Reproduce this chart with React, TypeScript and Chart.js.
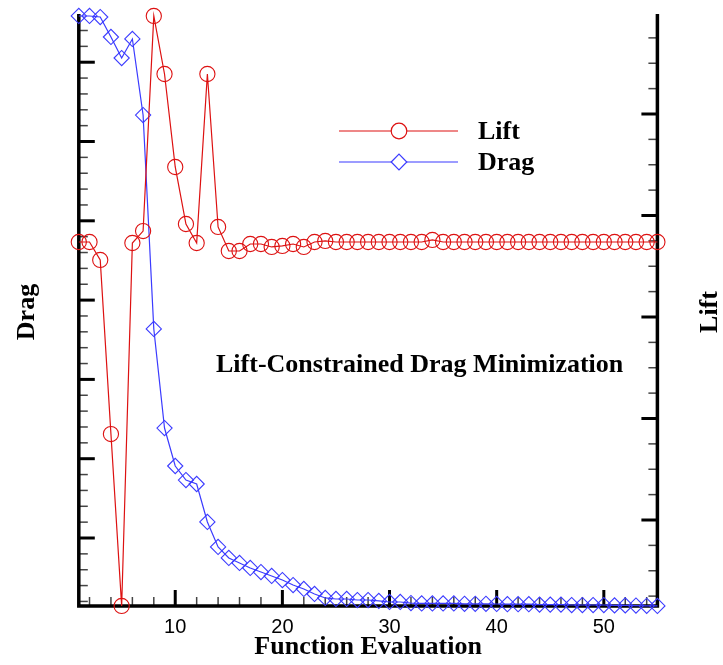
import React, { useEffect, useRef } from 'react';
import { Chart, registerables } from 'chart.js';

Chart.register(...registerables);

// ---- data ----
const evaluations: number[] = Array.from({ length: 55 }, (_, i) => i + 1);

const liftValues: number[] = [
  0.4739, 0.4739, 0.4562, 0.2847, 0.1153, 0.4729, 0.4847, 0.6966, 0.6394, 0.5478,
  0.4916, 0.4729, 0.6394, 0.4887, 0.4650, 0.4650, 0.4719, 0.4719, 0.4690, 0.4700,
  0.4719, 0.4690, 0.4739, 0.4749, 0.4739, 0.4739, 0.4739, 0.4739, 0.4739, 0.4739,
  0.4739, 0.4739, 0.4739, 0.4759, 0.4739, 0.4739, 0.4739, 0.4739, 0.4739, 0.4739,
  0.4739, 0.4739, 0.4739, 0.4739, 0.4739, 0.4739, 0.4739, 0.4739, 0.4739, 0.4739,
  0.4739, 0.4739, 0.4739, 0.4739, 0.4739,
];

const dragValues: number[] = [
  7.583, 7.583, 7.570, 7.318, 7.053, 7.293, 6.334, 3.636, 2.387, 1.908,
  1.731, 1.681, 1.202, 0.887, 0.748, 0.685, 0.622, 0.571, 0.521, 0.470,
  0.407, 0.357, 0.294, 0.244, 0.231, 0.231, 0.218, 0.218, 0.206, 0.193,
  0.193, 0.180, 0.175, 0.175, 0.175, 0.175, 0.170, 0.170, 0.170, 0.168,
  0.165, 0.165, 0.165, 0.160, 0.160, 0.160, 0.155, 0.155, 0.155, 0.155,
  0.150, 0.150, 0.148, 0.145, 0.143,
];

const xMajorTicks: number[] = [10, 20, 30, 40, 50];
const xTickLabels: string[] = ['10', '20', '30', '40', '50'];
const legendLabels: string[] = ['Lift', 'Drag'];
const chartTitle = 'Lift-Constrained Drag Minimization';
const xAxisTitle = 'Function Evaluation';
const leftAxisTitle = 'Drag';
const rightAxisTitle = 'Lift';

const X_MIN = 1;
const X_MAX = 55;
const DRAG_MIN = 0.1425;
const DRAG_MAX = 7.608;
const LIFT_MIN = 0.11527;
const LIFT_MAX = 0.69852;

const RED = '#dd1111';
const BLUE = '#3b3bff';
const BOLD_SERIF = "bold 26px 'Liberation Serif', 'DejaVu Serif', serif";

function range(start: number, end: number, step: number): number[] {
  const out: number[] = [];
  const n = Math.round((end - start) / step);
  for (let i = 0; i <= n; i++) out.push(+(start + i * step).toFixed(6));
  return out;
}

const axesPlugin = {
  id: 'customAxes',
  beforeDatasetsDraw(chart: any) {
    const { ctx, chartArea, scales } = chart;
    const { left, right, top, bottom } = chartArea;
    const xs = scales.x;
    const yd = scales.yDrag;
    const yl = scales.yLift;
    ctx.save();
    ctx.strokeStyle = '#000';
    ctx.lineCap = 'butt';

    const tick = (x1: number, y1: number, x2: number, y2: number, w: number, c: string) => {
      ctx.beginPath();
      ctx.lineWidth = w;
      ctx.strokeStyle = c;
      ctx.moveTo(x1, y1);
      ctx.lineTo(x2, y2);
      ctx.stroke();
    };

    // x ticks (inward, upward)
    range(2, 54, 2).forEach((v) => {
      const px = xs.getPixelForValue(v);
      const major = v % 10 === 0;
      tick(px, bottom, px, bottom - (major ? 16 : 9), major ? 3 : 1.5, major ? '#000' : '#444');
    });
    // drag ticks (left axis, inward to the right)
    range(0.2, 7.6, 0.2).forEach((v) => {
      const py = yd.getPixelForValue(v);
      if (py < top + 2 || py > bottom - 2) return;
      const major = Math.abs(v - Math.round(v)) < 1e-6;
      tick(left, py, left + (major ? 16 : 9), py, major ? 3 : 1.5, major ? '#000' : '#444');
    });
    // lift ticks (right axis, inward to the left)
    range(0.125, 0.675, 0.025).forEach((v) => {
      const py = yl.getPixelForValue(v);
      if (py < top + 2 || py > bottom - 2) return;
      const major = Math.abs(v * 10 - Math.round(v * 10)) < 1e-6;
      tick(right, py, right - (major ? 16 : 9), py, major ? 3 : 1.5, major ? '#000' : '#444');
    });

    // axis lines
    ctx.strokeStyle = '#000';
    ctx.lineWidth = 3.5;
    ctx.beginPath();
    ctx.moveTo(left, top);
    ctx.lineTo(left, bottom);
    ctx.lineTo(right, bottom);
    ctx.lineTo(right, top);
    ctx.stroke();
    ctx.restore();
  },
  afterDraw(chart: any) {
    const { ctx, chartArea, scales } = chart;
    const { left, right, bottom } = chartArea;
    const xs = scales.x;
    ctx.save();
    ctx.fillStyle = '#000';

    // x tick labels
    ctx.font = "20px 'Liberation Sans', Arial, sans-serif";
    ctx.textAlign = 'center';
    ctx.textBaseline = 'middle';
    xMajorTicks.forEach((v, i) => {
      ctx.fillText(xTickLabels[i], xs.getPixelForValue(v), bottom + 21);
    });

    // axis titles
    ctx.font = BOLD_SERIF;
    ctx.fillText(xAxisTitle, (left + right) / 2, bottom + 41);

    ctx.save();
    ctx.translate(27, 312);
    ctx.rotate(-Math.PI / 2);
    ctx.fillText(leftAxisTitle, 0, 0);
    ctx.restore();

    ctx.save();
    ctx.translate(710, 312);
    ctx.rotate(-Math.PI / 2);
    ctx.fillText(rightAxisTitle, 0, 0);
    ctx.restore();

    // annotation title
    ctx.textAlign = 'left';
    ctx.fillText(chartTitle, 216, 365);

    // legend
    const items = [
      { label: legendLabels[0], color: RED, style: 'circle', y: 131 },
      { label: legendLabels[1], color: BLUE, style: 'diamond', y: 162 },
    ];
    items.forEach((it) => {
      ctx.strokeStyle = it.color;
      ctx.lineWidth = 1.2;
      ctx.beginPath();
      ctx.moveTo(339, it.y);
      ctx.lineTo(458, it.y);
      ctx.stroke();
      ctx.beginPath();
      if (it.style === 'circle') {
        ctx.arc(399, it.y, 7.8, 0, Math.PI * 2);
      } else {
        ctx.moveTo(399 - 7.8, it.y);
        ctx.lineTo(399, it.y - 7.8);
        ctx.lineTo(399 + 7.8, it.y);
        ctx.lineTo(399, it.y + 7.8);
        ctx.closePath();
      }
      ctx.fillStyle = '#fff';
      ctx.fill();
      ctx.stroke();
      ctx.fillStyle = '#000';
      ctx.font = BOLD_SERIF;
      ctx.textBaseline = 'middle';
      ctx.fillText(it.label, 478, it.y + 1);
    });
    ctx.restore();
  },
};

export default function App() {
  const canvasRef = useRef<HTMLCanvasElement | null>(null);

  useEffect(() => {
    if (!canvasRef.current) return;
    const chart = new Chart(canvasRef.current, {
      type: 'line',
      data: {
        datasets: [
          {
            label: legendLabels[0],
            data: evaluations.map((x, i) => ({ x, y: liftValues[i] })),
            yAxisID: 'yLift',
            borderColor: RED,
            borderWidth: 1.2,
            pointStyle: 'circle',
            pointRadius: 7.6,
            pointBorderWidth: 1.1,
            pointBorderColor: RED,
            pointBackgroundColor: 'rgba(0,0,0,0)',
            tension: 0,
            fill: false,
            clip: false as any,
          },
          {
            label: legendLabels[1],
            data: evaluations.map((x, i) => ({ x, y: dragValues[i] })),
            yAxisID: 'yDrag',
            borderColor: BLUE,
            borderWidth: 1.2,
            pointStyle: 'rectRot',
            pointRadius: 7.6,
            pointBorderWidth: 1.1,
            pointBorderColor: BLUE,
            pointBackgroundColor: 'rgba(0,0,0,0)',
            tension: 0,
            fill: false,
            clip: false as any,
          },
        ],
      },
      options: {
        responsive: false,
        animation: false,
        devicePixelRatio: 1,
        layout: { padding: { left: 78.8, right: 65.6, top: 14, bottom: 59 } },
        plugins: { legend: { display: false }, tooltip: { enabled: false }, title: { display: false } },
        events: [],
        scales: {
          x: { type: 'linear', min: X_MIN, max: X_MAX, display: false },
          yDrag: { type: 'linear', position: 'left', min: DRAG_MIN, max: DRAG_MAX, display: false },
          yLift: { type: 'linear', position: 'right', min: LIFT_MIN, max: LIFT_MAX, display: false },
        },
      },
      plugins: [axesPlugin],
    });
    return () => chart.destroy();
  }, []);

  return (
    <div style={{ position: 'fixed', left: 0, top: 0, width: 723, height: 665, background: '#fff' }}>
      <canvas ref={canvasRef} width={723} height={665} style={{ display: 'block' }} />
    </div>
  );
}
